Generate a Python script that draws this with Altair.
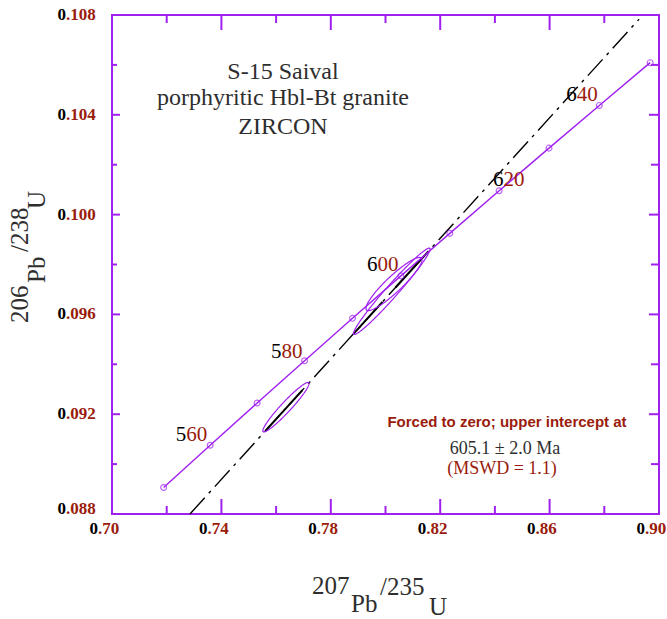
import altair as alt
import numpy as np
import pandas as pd

PURPLE = "#a020f0"
RED = "#9a1c0c"
INK = "#2e2e2e"
W, H = 547, 499

# ---- axes -------------------------------------------------------------
x_major = [0.70, 0.74, 0.78, 0.82, 0.86, 0.90]
x_labels = ["0.70", "0.74", "0.78", "0.82", "0.86", "0.90"]
x_minor = [0.72, 0.76, 0.80, 0.84, 0.88]
y_major = [0.088, 0.092, 0.096, 0.100, 0.104, 0.108]
y_labels = ["0.088", "0.092", "0.096", "0.100", "0.104", "0.108"]
y_minor = [0.090, 0.094, 0.098, 0.102, 0.106]

# ---- concordia (markers every 10 Ma) ---------------------------------
conc_age = [550, 560, 570, 580, 590, 600, 610, 620, 630, 640, 650]
conc_x = [0.71887, 0.73590, 0.75306, 0.77041, 0.78794, 0.80563,
          0.82350, 0.84155, 0.85977, 0.87818, 0.89677]
conc_y = [0.089064, 0.090755, 0.092448, 0.094144, 0.095843, 0.097544,
          0.099248, 0.100954, 0.102664, 0.104376, 0.106090]

# ---- age labels --------------------------------------------------------
age_text = ["560", "580", "600", "620", "640"]
age_lx = [0.72719, 0.76195, 0.79707, 0.84317, 0.86989]
age_ly = [0.091166, 0.094493, 0.097980, 0.101387, 0.104794]

# ---- error ellipses (centre, half-extent x / y, correlation) ----------
ell_cx = [0.76359, 0.80231, 0.80311]
ell_cy = [0.092281, 0.096926, 0.097218]
ell_sx = [0.00845, 0.01401, 0.01025]
ell_sy = [0.000992, 0.001731, 0.001066]
ell_rho = [0.956, 0.9775, 0.9154]

# ---- discordia (forced through zero, upper intercept 605.1 Ma) --------
disc_x = [0.7285, 0.8927]
disc_y = [0.08800, 0.10783]
seg_x0 = [0.75609, 0.78829, 0.80366]
seg_x1 = [0.76963, 0.79890, 0.81574]
seg_y0 = [0.091331, 0.095221, 0.097077]
seg_y1 = [0.092967, 0.096502, 0.098536]

xs = alt.Scale(domain=[0.70, 0.90], nice=False, zero=False)
ys = alt.Scale(domain=[0.088, 0.108], nice=False, zero=False)


def X(f="x"):
    return alt.X(f"{f}:Q", scale=xs, axis=None)


def Y(f="y"):
    return alt.Y(f"{f}:Q", scale=ys, axis=None)


layers = []

# discordia
disc = pd.DataFrame({"x": disc_x, "y": disc_y})
layers.append(alt.Chart(disc).mark_line(color="black", strokeWidth=1.4,
                                        strokeDash=[22, 6, 3, 6]).encode(x=X(), y=Y()))
segs = pd.DataFrame({"x": seg_x0, "x1": seg_x1, "y": seg_y0, "y1": seg_y1})
layers.append(alt.Chart(segs).mark_rule(color="black", strokeWidth=2).encode(
    x=X(), x2=alt.X2("x1:Q"), y=Y(), y2=alt.Y2("y1:Q")))

# ellipses
rows = []
theta = np.linspace(0, 2 * np.pi, 181)
for i, (cx, cy, sx, sy, r) in enumerate(zip(ell_cx, ell_cy, ell_sx, ell_sy, ell_rho)):
    ex = cx + sx * np.cos(theta)
    ey = cy + sy * (r * np.cos(theta) + np.sqrt(1 - r * r) * np.sin(theta))
    for k, (a, b) in enumerate(zip(ex, ey)):
        rows.append({"id": i, "k": k, "x": a, "y": b})
ell = pd.DataFrame(rows)
layers.append(alt.Chart(ell).mark_line(color=PURPLE, strokeWidth=1.2).encode(
    x=X(), y=Y(), detail="id:N", order="k:Q"))

# concordia
conc = pd.DataFrame({"age": conc_age, "x": conc_x, "y": conc_y})
layers.append(alt.Chart(conc).mark_line(color=PURPLE, strokeWidth=1.4).encode(
    x=X(), y=Y(), order="age:Q"))
layers.append(alt.Chart(conc).mark_point(shape="circle", filled=False, color=PURPLE,
                                         size=34, strokeWidth=1.2).encode(x=X(), y=Y()))

# age labels: first digit black, remainder red
ages = pd.DataFrame({"x": age_lx, "y": age_ly,
                     "a": [s[0] for s in age_text], "b": [s[1:] for s in age_text]})
layers.append(alt.Chart(ages).mark_text(font="Liberation Serif", fontSize=21, align="right",
                                        baseline="middle", color="black").encode(
    x=X(), y=Y(), text="a:N"))
layers.append(alt.Chart(ages).mark_text(font="Liberation Serif", fontSize=21, align="left",
                                        baseline="middle", color=RED).encode(
    x=X(), y=Y(), text="b:N"))

# ticks (inward)
def xticks(vals, y0, y1):
    return alt.Chart(pd.DataFrame({"x": vals})).mark_rule(color=PURPLE, strokeWidth=2).encode(
        x=X(), y=alt.value(y0), y2=alt.value(y1))


def yticks(vals, x0, x1):
    return alt.Chart(pd.DataFrame({"y": vals})).mark_rule(color=PURPLE, strokeWidth=2).encode(
        y=Y(), x=alt.value(x0), x2=alt.value(x1))


layers += [xticks(x_major, H, H - 15), xticks(x_minor, H, H - 8),
           xticks(x_major, 0, 15), xticks(x_minor, 0, 8),
           yticks(y_major, 0, 8), yticks(y_minor, 0, 5),
           yticks(y_major, W, W - 10), yticks(y_minor, W, W - 8)]

# tick labels: leading "0" black, rest red, anchored at the decimal point
xl = pd.DataFrame({"x": x_major, "a": [s[0] for s in x_labels], "b": [s[1:] for s in x_labels]})
yl = pd.DataFrame({"y": y_major, "a": [s[0] for s in y_labels], "b": [s[1:] for s in y_labels],
                   "off": [-5, 0, 0, 0, 0, 0]})
lab = dict(font="Liberation Serif", fontSize=17, fontWeight="bold")
layers.append(alt.Chart(xl).mark_text(align="right", baseline="alphabetic", dx=-14,
                                      color="black", **lab).encode(
    x=X(), y=alt.value(H + 20), text="a:N"))
layers.append(alt.Chart(xl).mark_text(align="left", baseline="alphabetic", dx=-14,
                                      color=RED, **lab).encode(
    x=X(), y=alt.value(H + 20), text="b:N"))
for sub, dy in ((yl[yl["off"] != 0], -5), (yl[yl["off"] == 0], 0)):
    layers.append(alt.Chart(sub).mark_text(align="right", baseline="middle", dy=dy,
                                           color="black", **lab).encode(
        y=Y(), x=alt.value(-46), text="a:N"))
    layers.append(alt.Chart(sub).mark_text(align="left", baseline="middle", dy=dy,
                                           color=RED, **lab).encode(
        y=Y(), x=alt.value(-46), text="b:N"))


def txt(t, x, y, **kw):
    return alt.Chart(pd.DataFrame({"t": [t]})).mark_text(**kw).encode(
        x=alt.value(x), y=alt.value(y), text="t:N")


serif = dict(font="Liberation Serif", color=INK)

# sample title block
layers += [txt("S-15 Saival", 171, 57, align="center", fontSize=24, **serif),
           txt("porphyritic Hbl-Bt granite", 171, 83, align="center", fontSize=24, **serif),
           txt("ZIRCON", 171, 112, align="center", fontSize=24, **serif)]

# result annotation
layers += [txt("Forced to zero; upper intercept at", 395, 407, align="center",
               font="Liberation Sans", fontSize=15, fontWeight="bold", color=RED),
           txt("605.1 \u00b1 2.0 Ma", 393, 434, align="center", fontSize=18, **serif),
           txt("(MSWD = 1.1)", 390, 454, align="center", fontSize=18,
               font="Liberation Serif", color=RED)]

# axis titles built from pieces (superscript isotopes)
tf = dict(font="Liberation Serif", color=INK, fontSize=25, align="left", baseline="alphabetic")
layers += [txt("207", 200, 579, **tf), txt("Pb", 239, 597, **tf),
           txt("/235", 268, 580, **tf), txt("U", 317, 600, **tf)]
layers += [txt("206", -84, 308, angle=270, **tf), txt("Pb", -67, 268, angle=270, **tf),
           txt("/238", -84, 237, angle=270, **tf), txt("U", -67, 194, angle=270, **tf)]

chart = alt.layer(*layers).properties(
    width=W, height=H,
    padding={"left": 112, "top": 15, "right": 8, "bottom": 105},
    autosize="none", background="white",
).configure_view(stroke=PURPLE, strokeWidth=2)

chart.save("out.html", embed_options={"renderer": "svg", "actions": False})
